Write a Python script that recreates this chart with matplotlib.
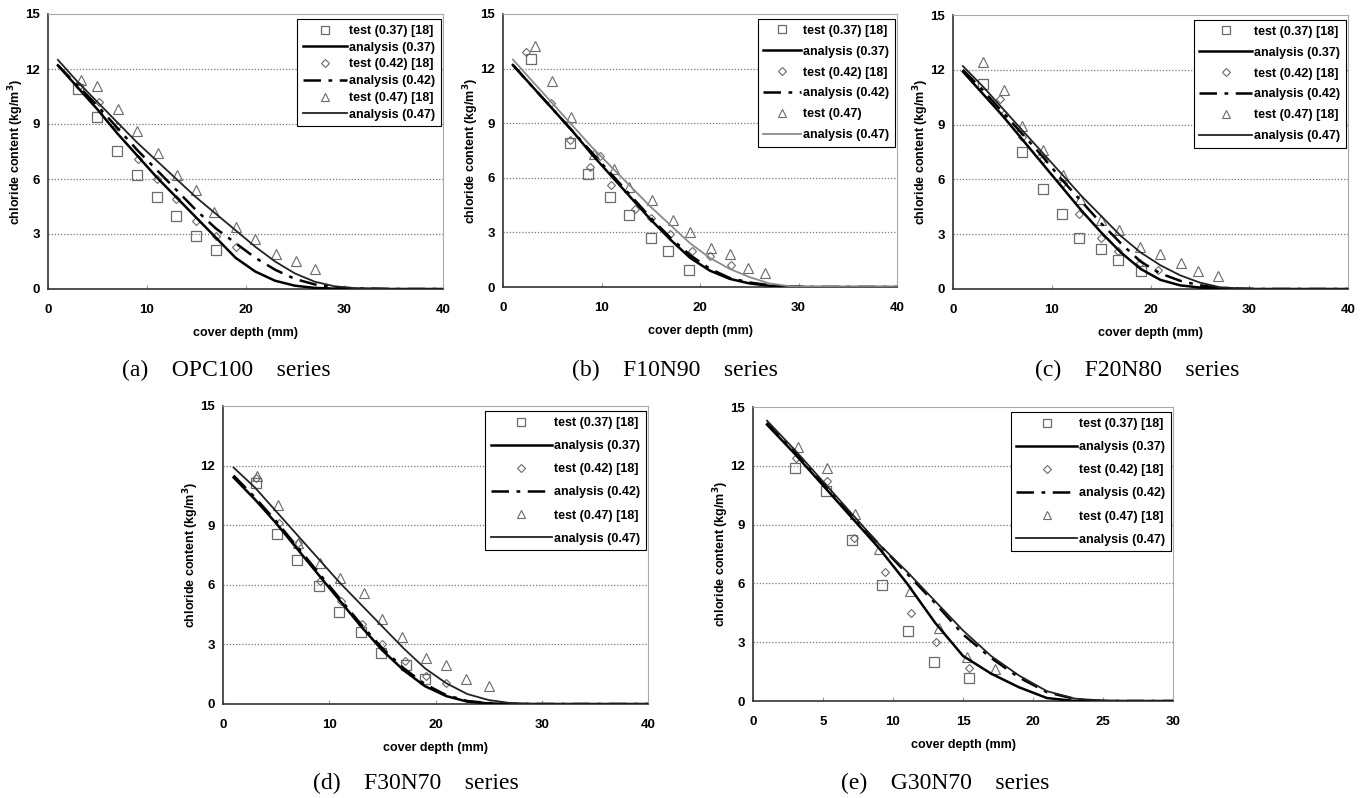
import matplotlib
matplotlib.use("Agg")
from matplotlib import pyplot as plt
from matplotlib.lines import Line2D

plt.rcParams['font.family'] = ['Liberation Sans', 'DejaVu Sans']

fit_x = [1, 3, 5, 7, 9, 11, 13, 15, 17, 19, 21, 23, 25, 27, 29, 31, 35, 40]
fit_x_e = [1, 3, 5, 7, 9, 11, 13, 15, 17, 19, 21, 23, 25, 27, 30]

# (a) OPC100
a_t37_x = [3, 5, 7, 9, 11, 13, 15, 17]
a_t37_y = [10.9, 9.4, 7.5, 6.2, 5.0, 4.0, 2.9, 2.1]
a_t42_x = [3.1, 5.2, 7.0, 9.1, 11.0, 13.0, 15.0, 17.0, 19.0]
a_t42_y = [11.1, 10.2, 8.9, 7.1, 6.0, 4.9, 3.7, 2.9, 2.3]
a_t47_x = [3.3, 5.0, 7.1, 9.0, 11.1, 13.1, 15.0, 16.8, 19.0, 21.0, 23.1, 25.1, 27.0]
a_t47_y = [11.4, 11.1, 9.8, 8.6, 7.4, 6.2, 5.4, 4.2, 3.4, 2.7, 1.9, 1.5, 1.1]
a_f37 = [12.2, 11.0, 9.8, 8.5, 7.3, 6.1, 5.0, 3.9, 2.8, 1.7, 0.95, 0.45, 0.18, 0.06, 0.02, 0, 0, 0]
a_f42 = [12.2, 11.1, 10.0, 8.8, 7.6, 6.5, 5.4, 4.3, 3.3, 2.5, 1.7, 1.05, 0.55, 0.25, 0.1, 0.03, 0, 0]
a_f47 = [12.5, 11.3, 10.2, 9.1, 8.0, 7.0, 6.0, 5.0, 4.1, 3.2, 2.3, 1.5, 0.85, 0.4, 0.15, 0.05, 0, 0]

# (b) F10N90
b_t37_x = [2.8, 6.8, 8.6, 10.9, 12.8, 15.0, 16.8, 18.9]
b_t37_y = [12.55, 7.9, 6.2, 4.95, 3.95, 2.7, 2.0, 0.95]
b_t42_x = [2.3, 4.9, 6.8, 8.8, 9.8, 11.0, 13.4, 15.0, 17.0, 19.2, 21.0, 23.1]
b_t42_y = [12.9, 10.1, 8.1, 6.6, 7.2, 5.6, 4.3, 3.8, 2.9, 2.0, 1.7, 1.2]
b_t47_x = [3.2, 5.0, 6.9, 9.2, 11.3, 12.8, 15.1, 17.3, 19.0, 21.1, 23.0, 24.9, 26.6]
b_t47_y = [13.25, 11.3, 9.35, 7.3, 6.5, 5.5, 4.8, 3.7, 3.0, 2.15, 1.8, 1.05, 0.75]
b_f37 = [12.2, 11.0, 9.8, 8.6, 7.3, 6.1, 4.9, 3.7, 2.6, 1.6, 0.9, 0.45, 0.2, 0.07, 0.02, 0, 0, 0]
b_f42 = [12.2, 11.0, 9.8, 8.6, 7.4, 6.2, 5.0, 3.8, 2.7, 1.75, 1.0, 0.5, 0.25, 0.1, 0.03, 0, 0, 0]
b_f47 = [12.5, 11.3, 10.1, 8.9, 7.7, 6.6, 5.5, 4.4, 3.4, 2.4, 1.6, 1.0, 0.55, 0.2, 0.05, 0.01, 0, 0]

# (c) F20N80
c_t37_x = [3.0, 7.0, 9.1, 11.0, 12.8, 15.0, 16.7, 19.0]
c_t37_y = [11.25, 7.5, 5.45, 4.1, 2.8, 2.2, 1.6, 1.0]
c_t42_x = [4.8, 5.2, 7.0, 9.1, 11.1, 12.8, 15.0, 16.7, 18.9, 20.8]
c_t42_y = [10.4, 9.6, 8.3, 7.1, 5.8, 4.1, 2.8, 2.1, 1.4, 1.05]
c_t47_x = [3.0, 5.2, 7.0, 9.1, 11.1, 12.9, 15.0, 16.8, 18.9, 21.0, 23.1, 24.8, 26.8]
c_t47_y = [12.4, 10.9, 8.9, 7.6, 6.25, 4.9, 3.8, 3.25, 2.3, 1.9, 1.45, 1.0, 0.7]
c_f37 = [11.9, 10.7, 9.5, 8.2, 6.9, 5.6, 4.3, 3.1, 2.0, 1.1, 0.5, 0.2, 0.08, 0.02, 0, 0, 0, 0]
c_f42 = [12.0, 10.9, 9.7, 8.5, 7.3, 6.0, 4.8, 3.6, 2.5, 1.5, 0.85, 0.45, 0.2, 0.07, 0.02, 0, 0, 0]
c_f47 = [12.2, 11.1, 9.9, 8.7, 7.5, 6.3, 5.1, 4.0, 2.9, 2.0, 1.3, 0.75, 0.35, 0.1, 0.03, 0, 0, 0]

# (d) F30N70
d_t37_x = [3.1, 5.1, 6.95, 9.0, 10.9, 13.0, 14.9, 17.2, 19.0]
d_t37_y = [11.1, 8.55, 7.25, 5.95, 4.65, 3.6, 2.55, 1.95, 1.25]
d_t42_x = [3.1, 5.3, 7.1, 9.1, 11.1, 13.1, 15.0, 17.1, 19.1, 21.0]
d_t42_y = [11.4, 9.1, 8.1, 6.2, 5.2, 4.05, 3.0, 2.15, 1.4, 1.05]
d_t47_x = [3.2, 5.2, 7.1, 9.1, 11.0, 13.3, 15.0, 16.8, 19.1, 21.0, 22.9, 25.0]
d_t47_y = [11.5, 10.0, 8.1, 7.1, 6.35, 5.6, 4.3, 3.35, 2.3, 1.95, 1.25, 0.9]
d_f37 = [11.4, 10.3, 9.1, 7.8, 6.5, 5.2, 3.9, 2.7, 1.7, 0.9, 0.4, 0.12, 0.03, 0, 0, 0, 0, 0]
d_f42 = [11.5, 10.4, 9.2, 7.9, 6.6, 5.3, 4.0, 2.8, 1.8, 1.0, 0.45, 0.15, 0.05, 0.01, 0, 0, 0, 0]
d_f47 = [11.9, 10.9, 9.7, 8.5, 7.3, 6.1, 5.0, 3.9, 2.8, 1.8, 1.05, 0.5, 0.2, 0.05, 0.01, 0, 0, 0]

# (e) G30N70
e_t37_x = [3.0, 5.2, 7.1, 9.2, 11.1, 12.9, 15.4]
e_t37_y = [11.9, 10.7, 8.2, 5.9, 3.55, 2.0, 1.15]
e_t42_x = [3.1, 5.3, 7.2, 9.45, 11.3, 13.1, 15.4]
e_t42_y = [12.4, 11.2, 8.3, 6.6, 4.5, 3.0, 1.7]
e_t47_x = [3.2, 5.3, 7.3, 9.0, 11.2, 13.3, 15.3, 17.3]
e_t47_y = [12.95, 11.9, 9.55, 7.75, 5.6, 3.75, 2.25, 1.65]
e_f37 = [14.1, 12.6, 11.0, 9.4, 7.8, 6.0, 4.0, 2.3, 1.4, 0.7, 0.15, 0, 0, 0, 0]
e_f42 = [14.2, 12.7, 11.1, 9.5, 8.0, 6.5, 5.0, 3.4, 2.2, 1.2, 0.45, 0.1, 0, 0, 0]
e_f47 = [14.3, 12.8, 11.2, 9.6, 8.0, 6.6, 5.1, 3.6, 2.3, 1.3, 0.5, 0.12, 0.02, 0, 0]

captions = ["(a)    OPC100    series", "(b)    F10N90    series", "(c)    F20N80    series",
            "(d)    F30N70    series", "(e)    G30N70    series"]
legend_labels = ["test (0.37) [18]", "analysis (0.37)", "test (0.42) [18]",
                 "analysis (0.42)", "test (0.47) [18]", "analysis (0.47)"]

W, H = 1369, 798
# axes boxes in pixels: left, top, right, bottom
boxes = [(48, 14, 443, 289), (503, 14, 897, 287), (953, 15, 1348, 289),
         (223, 406, 648, 704), (753, 407, 1173, 701)]
caption_xy = [(226, 370), (675, 370), (1137, 370), (416, 783), (945, 783)]
legend_spacing = [0.38, 0.71, 0.71, 0.89, 0.89]
legend_handle = [3.55, 3.0, 4.2, 4.9, 4.85]

panels = [
    (a_t37_x, a_t37_y, a_t42_x, a_t42_y, a_t47_x, a_t47_y, fit_x, a_f37, a_f42, a_f47),
    (b_t37_x, b_t37_y, b_t42_x, b_t42_y, b_t47_x, b_t47_y, fit_x, b_f37, b_f42, b_f47),
    (c_t37_x, c_t37_y, c_t42_x, c_t42_y, c_t47_x, c_t47_y, fit_x, c_f37, c_f42, c_f47),
    (d_t37_x, d_t37_y, d_t42_x, d_t42_y, d_t47_x, d_t47_y, fit_x, d_f37, d_f42, d_f47),
    (e_t37_x, e_t37_y, e_t42_x, e_t42_y, e_t47_x, e_t47_y, fit_x_e, e_f37, e_f42, e_f47),
]

fig = plt.figure(figsize=(W / 100, H / 100), dpi=100)

mk_color = '#6a6a6a'
for i, (box, data) in enumerate(zip(boxes, panels)):
    l, t, r, b = box
    ax = fig.add_axes([l / W, 1 - b / H, (r - l) / W, (b - t) / H])
    t37x, t37y, t42x, t42y, t47x, t47y, fx, f37, f42, f47 = data

    ax.plot(t37x, t37y, 's', ms=6.8, mfc='none', mec=mk_color, mew=0.9, zorder=3)
    ax.plot(fx, f37, '-', color='black', lw=1.8, zorder=4)
    ax.plot(t42x, t42y, 'D', ms=4.2, mfc='none', mec=mk_color, mew=0.8, zorder=3)
    ax.plot(fx, f42, color='black', lw=1.8, dashes=(7, 3, 1.5, 3), zorder=4)
    ax.plot(t47x, t47y, '^', ms=7, mfc='none', mec=mk_color, mew=0.8, zorder=3)
    c47 = '#8a8a8a' if i == 1 else '#222222'
    ax.plot(fx, f47, '-', color=c47, lw=1.3, zorder=4)

    xmax = 30 if i == 4 else 40
    ax.set_xlim(0, xmax)
    ax.set_ylim(0, 15)
    ax.set_xticks(range(0, xmax + 1, 5 if i == 4 else 10))
    ax.set_yticks([0, 3, 6, 9, 12, 15])
    for yv in [3, 6, 9, 12]:
        ax.axhline(yv, color='#777777', lw=0.9, ls=(0, (1, 1.5)), zorder=1)
    ax.tick_params(axis='x', direction='in', length=3, color='#999999', pad=10.5, labelsize=9.5)
    ax.tick_params(axis='y', length=0, pad=6, labelsize=9.5)
    for lab in ax.get_xticklabels() + ax.get_yticklabels():
        lab.set_fontweight('bold')
    for s in ['top', 'right']:
        ax.spines[s].set_color('#aaaaaa')
        ax.spines[s].set_linewidth(0.8)
    for s in ['left', 'bottom']:
        ax.spines[s].set_color('#333333')
        ax.spines[s].set_linewidth(1.2)

    ax.set_xlabel("cover depth (mm)", fontsize=9, fontweight='bold', labelpad=8)
    ax.set_ylabel("chloride content (kg/m$^\\mathbf{3}$)", fontsize=9, fontweight='bold', labelpad=-1)

    labels = list(legend_labels)
    if i == 1:
        labels[4] = "test (0.47)"
    handles = [
        Line2D([], [], ls='none', marker='s', ms=6, mfc='none', mec=mk_color, mew=0.9),
        Line2D([], [], color='black', lw=1.8),
        Line2D([], [], ls='none', marker='D', ms=4, mfc='none', mec=mk_color, mew=0.8),
        Line2D([], [], color='black', lw=1.8, dashes=(7, 3, 1.5, 3)),
        Line2D([], [], ls='none', marker='^', ms=6, mfc='none', mec=mk_color, mew=0.8),
        Line2D([], [], color=c47, lw=1.3),
    ]
    leg = ax.legend(handles, labels, loc='upper right', bbox_to_anchor=(1.0, 0.99),
                    frameon=True, fancybox=False, edgecolor='black',
                    framealpha=1, handlelength=legend_handle[i],
                    labelspacing=legend_spacing[i],
                    borderpad=0.45, handletextpad=0.15, borderaxespad=0.2,
                    prop={'weight': 'bold', 'size': 9})
    leg.get_frame().set_linewidth(0.8)

    cx, cy = caption_xy[i]
    fig.text(cx / W, 1 - cy / H, captions[i], ha='center', va='center',
             fontsize=17, family='Liberation Serif')

fig.savefig("out.png", dpi=100)
